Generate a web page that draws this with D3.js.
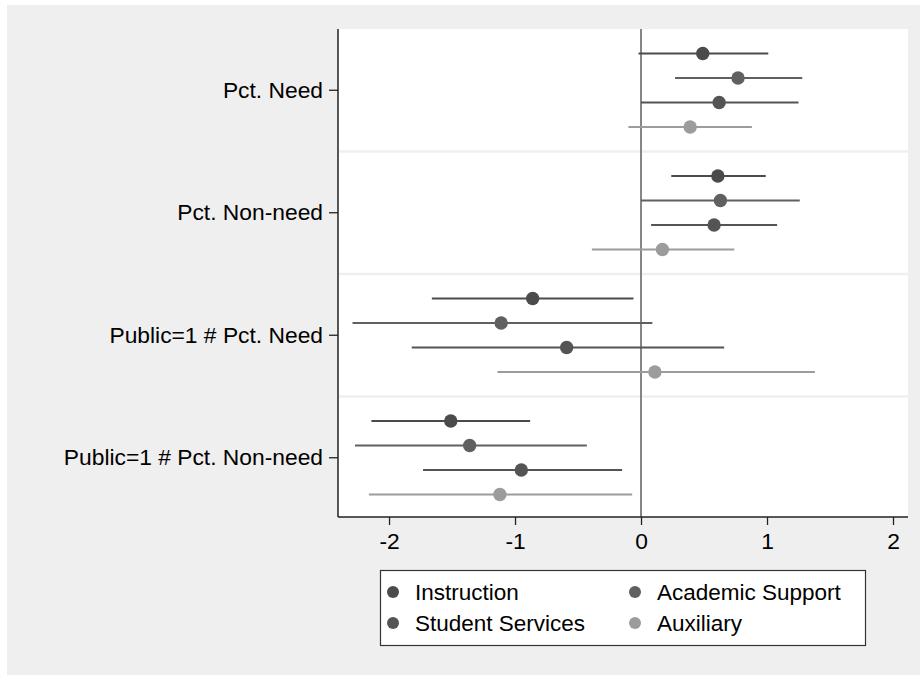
<!DOCTYPE html>
<html>
<head>
  <meta charset="utf-8">
  <title>Coefficient plot</title>
  <script src="https://d3js.org/d3.v7.min.js"></script>
  <style>
    body, html {
      margin: 0;
      padding: 0;
      background: #ffffff;
    }
    svg {
      display: block;
      font-family: "Liberation Sans", Arial, Helvetica, sans-serif;
    }
    .axis text {
      font-size: 22.8px;
      fill: #000;
    }
    .axis .tick line {
      stroke: #222;
      stroke-width: 1.3;
    }
    .axis .domain {
      display: none;
    }
    .legend text {
      font-size: 22.5px;
      fill: #000;
    }
  </style>
</head>
<body>
  <div id="chart"></div>
  <script>
    // data
    const categories = ["Pct. Need", "Pct. Non-need", "Public=1 # Pct. Need", "Public=1 # Pct. Non-need"]
    const seriesNames = ["Instruction", "Academic Support", "Student Services", "Auxiliary"]
    const xTicks = [-2, -1, 0, 1, 2]

    const instructionEst = [0.49, 0.61, -0.86, -1.51]
    const instructionLo = [-0.02, 0.24, -1.66, -2.14]
    const instructionHi = [1.01, 0.99, -0.06, -0.88]

    const academicEst = [0.77, 0.63, -1.11, -1.36]
    const academicLo = [0.27, 0.00, -2.29, -2.27]
    const academicHi = [1.28, 1.26, 0.09, -0.43]

    const studentEst = [0.62, 0.58, -0.59, -0.95]
    const studentLo = [0.00, 0.08, -1.82, -1.73]
    const studentHi = [1.25, 1.08, 0.66, -0.15]

    const auxiliaryEst = [0.39, 0.17, 0.11, -1.12]
    const auxiliaryLo = [-0.10, -0.39, -1.14, -2.16]
    const auxiliaryHi = [0.88, 0.74, 1.38, -0.07]

    const colors = ["#4b4b4b", "#606060", "#545454", "#9c9c9c"]

    const est = [instructionEst, academicEst, studentEst, auxiliaryEst]
    const lo = [instructionLo, academicLo, studentLo, auxiliaryLo]
    const hi = [instructionHi, academicHi, studentHi, auxiliaryHi]

    const rows = []
    seriesNames.forEach((s, si) => {
      categories.forEach((c, ci) => {
        rows.push({ series: s, si: si, cat: c, est: est[si][ci], lo: lo[si][ci], hi: hi[si][ci] })
      })
    })

    const W = 920, H = 675
    const plot = { left: 338, right: 908, top: 29, bottom: 517 }

    const svg = d3.select('#chart').append('svg')
      .attr('width', W)
      .attr('height', H)

    // outer gray background
    svg.append('rect')
      .attr('x', 7).attr('y', 5)
      .attr('width', W - 7).attr('height', H - 5)
      .attr('fill', '#efefef')

    // plot region
    svg.append('rect')
      .attr('x', plot.left).attr('y', plot.top)
      .attr('width', plot.right - plot.left).attr('height', plot.bottom - plot.top)
      .attr('fill', '#ffffff')

    const xScale = d3.scaleLinear()
      .domain([-2.405, 2.119])
      .range([plot.left, plot.right])

    const yScale = d3.scaleBand()
      .domain(categories)
      .range([plot.top, plot.bottom + 2])

    const inner = d3.scalePoint()
      .domain(seriesNames)
      .range([0, yScale.bandwidth()])
      .padding(1)

    // light separators between groups
    svg.append('g')
      .selectAll('line')
      .data(categories.slice(1))
      .enter()
      .append('line')
      .attr('x1', plot.left + 1).attr('x2', plot.right)
      .attr('y1', (d) => yScale(d)).attr('y2', (d) => yScale(d))
      .attr('stroke', '#efefef')
      .attr('stroke-width', 2.5)

    // zero line
    svg.append('line')
      .attr('x1', xScale(0)).attr('x2', xScale(0))
      .attr('y1', plot.top).attr('y2', plot.bottom)
      .attr('stroke', '#858585')
      .attr('stroke-width', 2)

    // confidence intervals
    svg.append('g')
      .selectAll('line')
      .data(rows)
      .enter()
      .append('line')
      .attr('x1', (d) => xScale(d.lo))
      .attr('x2', (d) => xScale(d.hi))
      .attr('y1', (d) => yScale(d.cat) + inner(d.series))
      .attr('y2', (d) => yScale(d.cat) + inner(d.series))
      .attr('stroke', (d) => colors[d.si])
      .attr('stroke-width', 2)

    // point estimates
    svg.append('g')
      .selectAll('circle')
      .data(rows)
      .enter()
      .append('circle')
      .attr('cx', (d) => xScale(d.est))
      .attr('cy', (d) => yScale(d.cat) + inner(d.series))
      .attr('r', 6.7)
      .attr('fill', (d) => colors[d.si])

    // axes
    svg.append('g')
      .attr('class', 'axis')
      .attr('transform', `translate(${plot.left},0)`)
      .call(d3.axisLeft(yScale).tickSize(9).tickPadding(6).tickSizeOuter(0))

    svg.append('g')
      .attr('class', 'axis')
      .attr('transform', `translate(0,${plot.bottom})`)
      .call(d3.axisBottom(xScale).tickValues(xTicks).tickFormat((d) => String(d))
        .tickSize(8).tickPadding(8).tickSizeOuter(0))

    svg.append('line')
      .attr('x1', plot.left).attr('x2', plot.left)
      .attr('y1', plot.top).attr('y2', plot.bottom)
      .attr('stroke', '#222').attr('stroke-width', 1.5)
    svg.append('line')
      .attr('x1', plot.left).attr('x2', plot.right)
      .attr('y1', plot.bottom).attr('y2', plot.bottom)
      .attr('stroke', '#222').attr('stroke-width', 1.5)

    // legend
    const legend = svg.append('g').attr('class', 'legend')
    legend.append('rect')
      .attr('x', 380.5).attr('y', 570.5)
      .attr('width', 485).attr('height', 75)
      .attr('fill', '#fff')
      .attr('stroke', '#333')
      .attr('stroke-width', 1.2)

    const legendCols = [393, 635]
    const legendRows = [592, 623]
    const items = legend.selectAll('g.item')
      .data(seriesNames)
      .enter()
      .append('g')
      .attr('class', 'item')
      .attr('transform', (d, i) => `translate(${legendCols[i % 2]},${legendRows[Math.floor(i / 2)]})`)
    items.append('circle')
      .attr('r', 6)
      .attr('fill', (d, i) => colors[i])
    items.append('text')
      .attr('x', 22)
      .attr('dy', '0.36em')
      .text((d) => d)
  </script>
</body>
</html>
